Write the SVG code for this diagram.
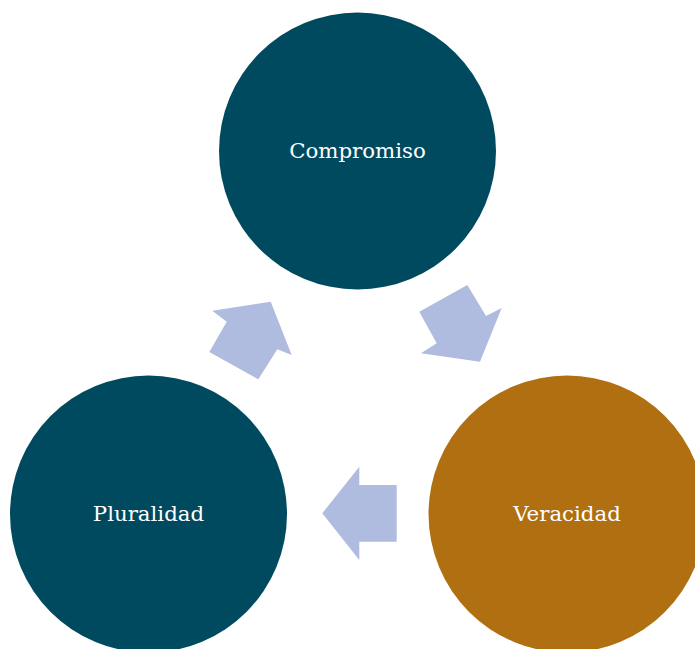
<svg xmlns="http://www.w3.org/2000/svg" width="695" height="649" viewBox="0 0 695 649">
<style>
.teal{fill:#004A5F}
.gold{fill:#B06F10}
.arrow{fill:#B0BCDF}
.lbl{font-family:"DejaVu Serif","Liberation Serif",serif;font-size:21.3px;fill:#FFFFFF;text-anchor:middle;dominant-baseline:central}
</style>
<rect width="695" height="649" fill="#FFFFFF"/>
<g id="compromiso">
<circle class="teal" cx="357.5" cy="151" r="138.5"/>
<text class="lbl" x="357.5" y="150">Compromiso</text>
</g>
<g id="veracidad">
<circle class="gold" cx="567" cy="514" r="138.5"/>
<text class="lbl" x="567" y="513">Veracidad</text>
</g>
<g id="pluralidad">
<circle class="teal" cx="148.5" cy="514" r="138.5"/>
<text class="lbl" x="148.5" y="513">Pluralidad</text>
</g>
<g id="connectors">
<polygon class="arrow" points="419.3,311.7 467.3,285 486,316 501.7,308 480,361.7 421,353.3 436.7,343.3"/>
<polygon class="arrow" points="396.7,485 359.3,485 359.3,466.7 322.3,513.3 359.3,560 359.3,541.7 396.7,541.7"/>
<polygon class="arrow" points="212.3,310.7 270.7,301.7 291.7,355 277.3,349.3 258.3,379.3 209.3,352 226.7,321.7"/>
</g>
</svg>
